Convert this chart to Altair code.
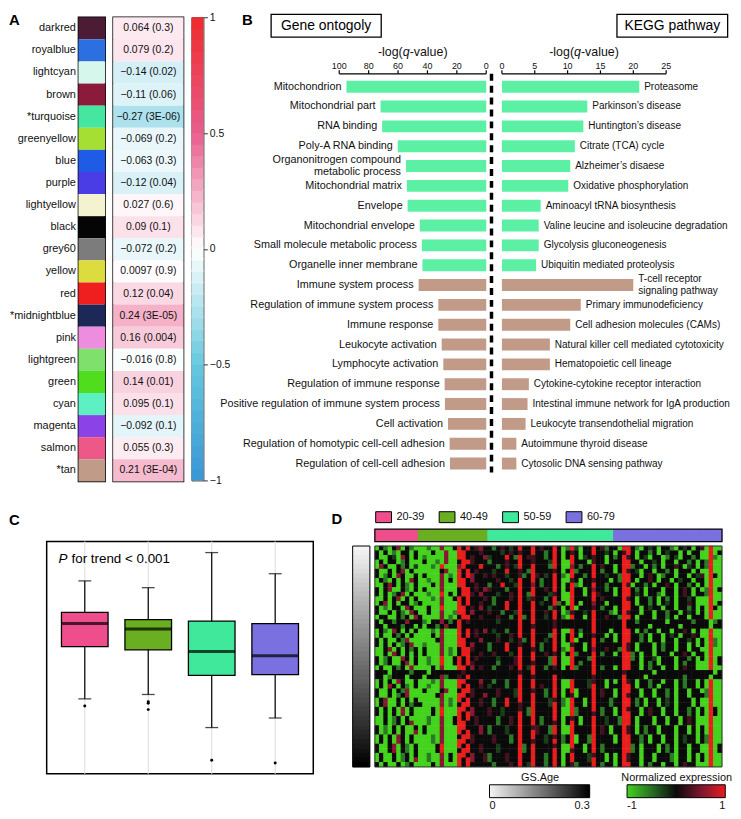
import altair as alt
import numpy as np
import pandas as pd

FONT = "Liberation Sans"
INK = "#111111"

# ---------------- Panel A : module / trait correlations ----------------
MODULES = ["darkred", "royalblue", "lightcyan", "brown", "*turquoise", "greenyellow", "blue",
           "purple", "lightyellow", "black", "grey60", "yellow", "red", "*midnightblue", "pink",
           "lightgreen", "green", "cyan", "magenta", "salmon", "*tan"]
MODULE_COLORS = ["#4b1c33", "#2b6fe0", "#d6f7ec", "#8a1b3b", "#44e6a0", "#a6df33", "#1f5ce6",
                 "#4a3de6", "#f3f3d0", "#050505", "#7c7c7c", "#dcdc3e", "#f01f1f", "#1c2858",
                 "#ee8ce0", "#7fe06c", "#4fdd1e", "#5cf0c2", "#8b42e6", "#ee5888", "#bf9b88"]
MODULE_R = [0.064, 0.079, -0.14, -0.11, -0.27, -0.069, -0.063, -0.12, 0.027, 0.09, -0.072,
            0.0097, 0.12, 0.24, 0.16, -0.016, 0.14, 0.095, -0.092, 0.055, 0.21]
MODULE_P = ["0.3", "0.2", "0.02", "0.06", "3E-06", "0.2", "0.3", "0.04", "0.6", "0.1", "0.2",
            "0.9", "0.04", "3E-05", "0.004", "0.8", "0.01", "0.1", "0.1", "0.3", "3E-04"]
CORR_DOMAIN = [-1, -0.5, 0, 0.5, 1]
CORR_RANGE = ["#3a95d6", "#66c8de", "#ffffff", "#e95d8d", "#ee2b2b"]
CORR_TICKS = [-1, -0.5, 0, 0.5, 1]

# ---------------- Panel B : enrichment ----------------
GO_TERMS = ["Mitochondrion", "Mitochondrial part", "RNA binding", "Poly-A RNA binding",
            "Organonitrogen compound\nmetabolic process", "Mitochondrial matrix", "Envelope",
            "Mitochondrial envelope", "Small molecule metabolic process", "Organelle inner membrane",
            "Immune system process", "Regulation of immune system process", "Immune response",
            "Leukocyte activation", "Lymphocyte activation", "Regulation of immune response",
            "Positive regulation of immune system process", "Cell activation",
            "Regulation of homotypic cell-cell adhesion", "Regulation of cell-cell adhesion"]
GO_VALUES = [95.1, 71.9, 70.8, 60.2, 54.6, 54.0, 53.5, 45.2, 43.8, 43.4,
             46.0, 32.6, 32.6, 30.3, 29.2, 28.3, 28.1, 26.0, 24.9, 24.7]
GO_MULTILINE = [False, False, False, False, True, False, False, False, False, False,
                False, False, False, False, False, False, False, False, False, False]
GO_CLASS = ["mito", "mito", "mito", "mito", "mito", "mito", "mito", "mito", "mito", "mito",
            "immune", "immune", "immune", "immune", "immune", "immune", "immune", "immune",
            "immune", "immune"]
KEGG_TERMS = ["Proteasome", "Parkinson\u2019s disease", "Huntington\u2019s disease",
              "Citrate (TCA) cycle", "Alzheimer\u2019s disaese", "Oxidative phosphorylation",
              "Aminoacyl tRNA biosynthesis", "Valine leucine and isoleucine degradation",
              "Glycolysis gluconeogenesis", "Ubiquitin mediated proteolysis",
              "T-cell receptor\nsignaling pathway", "Primary immunodeficiency",
              "Cell adhesion molecules (CAMs)", "Natural killer cell mediated cytotoxicity",
              "Hematopoietic cell lineage", "Cytokine-cytokine receptor interaction",
              "Intestinal immune network for IgA production", "Leukocyte transendothelial migration",
              "Autoimmune thyroid disease", "Cytosolic DNA sensing pathway"]
KEGG_VALUES = [20.9, 13.0, 12.4, 11.1, 10.4, 10.1, 5.9, 5.6, 5.6, 5.2,
               20.0, 12.0, 10.4, 7.3, 7.3, 4.1, 3.9, 3.6, 2.2, 2.2]
KEGG_MULTILINE = [False, False, False, False, False, False, False, False, False, False,
                  True, False, False, False, False, False, False, False, False, False]
KEGG_CLASS = GO_CLASS
GO_TICKS = [0, 20, 40, 60, 80, 100]
KEGG_TICKS = [0, 5, 10, 15, 20, 25]
CLASS_NAMES = ["mito", "immune"]
CLASS_COLORS = ["#5bf0a3", "#c29a88"]

# ---------------- Panel C : boxplot ----------------
AGE_GROUPS = ["20-39", "40-49", "50-59", "60-79"]
AGE_COLORS = ["#ee4f8c", "#6aae22", "#3fe89b", "#7b70e0"]
BOX_LO = [14.98, 15.09, 14.26, 14.50]
BOX_Q1 = [16.29, 16.21, 15.57, 15.59]
BOX_MED = [16.87, 16.73, 16.17, 16.06]
BOX_Q3 = [17.15, 16.97, 16.93, 16.87]
BOX_HI = [17.94, 17.77, 18.65, 18.12]
OUT_GROUP = ["20-39", "40-49", "40-49", "40-49", "50-59", "60-79"]
OUT_VALUE = [14.80, 14.91, 14.87, 14.71, 13.44, 13.37]
C_YGRID = [13.5, 14, 14.5, 15, 15.5, 16, 16.5, 17, 17.5, 18, 18.5]

# ---------------- Panel D : heatmap ----------------
SAMPLES_PER_GROUP = [10, 16, 29, 25]
HEAT_LEVELS = {"G": -1.0, "g": -0.55, "d": -0.25, "k": 0.0, "m": 0.25, "r": 0.55, "R": 1.0}
HEAT_ROWS = [
    "GkgGkrGkgG" "GGgGGrGGk" "RkR" "kmrk" "kgkmkdkRkkRkmkkRkGgRdGkkRkmgk" "kGRRkgGkdkGkkgGkdkGkm" "GRGG",
    "kGkGgGkkGk" "GGGkGGrGG" "RRk" "kkmk" "kkkdkmkmkkRkkgkRkGkmkGkkRkkdk" "GkmRkGkkgkGkdkkGkGkkG" "GRGk",
    "kGGkdGrkGk" "GgGGGGrGG" "RRk" "mkkr" "dkkkRkgRkmmkkgkRkGkRkGdkmkkGk" "gkRmkGkdGkkGgkdGkkgkG" "GRgG",
    "GkGkkGgkGG" "GkGGgGrGG" "kRR" "mkkk" "gkkkmkkRkkmkkkdRkGGRkkkGmkkGk" "kkRRkkGkkdkGkkGkkgkGk" "gRGG",
    "GrkGGkgkGd" "GGGgGRGGG" "rRk" "kkRk" "kkgkmkdRkkRkkkgRkGGrkgkkRkmkk" "GkRRgkkGkgkGkkmkGdkGk" "gRGG",
    "kGGkGkrGkG" "GGGGGkrGG" "RkR" "kmkk" "kdkkRkkmkgRkkkkmkGkRgkkkRkgkk" "GkRmkdGkkGkkgkGkkkGkG" "GRGG",
    "kGgkGrkGGk" "GkGGGrGgG" "RkR" "rkkm" "kmkkdkkmgkRmkdkRkgGRkkgkRkkdk" "kgRRkkGkmkGgkkGkkGkdm" "GRkG",
    "GkgGkGkGrk" "GGgGGrGkG" "RRk" "rkkk" "kkmkkdkRkkRkgkkRkGGmkGkkmkkkG" "kgRRkGkkmkGkkGkdkkGkk" "GRGG",
    "GGkrkGkgGk" "GGGkGrGGG" "RRk" "kmkk" "gkkRkkdRkkrkgkkRkGkRgGkkRkkgk" "kkRmGkkgkGkkmkGkkgkGk" "GRGG",
    "kGkrGGkgGk" "GkGGGrGGG" "kRR" "kmkr" "mkkkgkkRkkRkkmkRkGkRkkGkrkkgk" "GkRRkgkGkkkGkkGkmkGkG" "gRGk",
    "kGkGgkrGkG" "GGgGGRGkG" "kRR" "mkrk" "kkdkkmkRkgRkkkdmkGGRkkGkRmkkk" "GkRRkdkGkkgGkkGkmkGkk" "gRGG",
    "GGkGkrGkGk" "GGGgGrGGk" "RkR" "kkkm" "kgkkkmkRkdmkkgkRkGGRkkkkRkmkk" "kkRmkGkkgkGkgkGkkdkGG" "GRGG",
    "GkrGkGkkGg" "kGGGGrGGG" "RkR" "kkmk" "kgkkRkkRkkRkdkkRgkGRkGkkrkkGk" "kkRRkGkkgkGkdkGkkmkGG" "GRGk",
    "kGgGkkGrkG" "GGkGGRGGG" "RRk" "mkrk" "dkkkRkkRkkRkkkgmkGkRGkkkmkgkk" "GkRRkkGkdkkGkkGkkgkGk" "GRkG",
    "kGGkGkgGrk" "GGkGGrGGg" "RRk" "rkkk" "mkkgkkdRkkRkkmkRkGgmkkdkRkkkg" "GkRmkkGkkGkkgkkGkdkGk" "GRGG",
    "GkkGGkgkGr" "kGGGGrGgG" "kRR" "kkmk" "kkmkkgkRgkRkkdkRkgGRkkGkRkkmk" "kgRRkGkkkGkkgkGkkGkkk" "GRGG",
    "kGkkgkkrkk" "kgGkkrkgk" "Rkm" "kkkk" "kkdkkkkRkkRkkkkmkkkkkkkkRkkkk" "kkRkkgkkkkkkGkkkkkgkk" "kGgk",
    "kkGkkkgkkG" "kGkkgkrkk" "Rkk" "kkkk" "kkkkkkkRkkmkkkkmkkkkkkkkRkkkk" "kkRkkkkkGkkkkkkGkkkkk" "kGkk",
    "GkgGrkGkGk" "GGGgGrGGG" "RkR" "kmkr" "kdkkgkkRkkRkkkkRkGGRkgkkRkkkG" "kkRRkGkgkkGkkGkkmkGkG" "GRGG",
    "GkGGkgkGkG" "GGGkGrGGG" "RkR" "kmkk" "kkdkkmkRkkRkkkgRkGkRkGkkmkkGk" "GkRRkkgkGkkGkdkGkkmkG" "GRGG",
    "kGkGGkgrGG" "GGGGkrGGG" "RRk" "kkrk" "kkmkkdkmgkRkkdkRkGkRGkkkRkgkk" "GkRRkkgkGkkGkkGkkdkGk" "GRgG",
    "kGkGkGgkrG" "GgGGGrGGG" "RRk" "rkkk" "gkkkRkkmkkRkgkkRkGGmkkGkRkkkk" "kkRmkGkkkGkgkkGkkGkGk" "GRgG",
    "GGkrGkGkgk" "GkGGGrGgG" "kRR" "mkkk" "gkkkRkkRkkmkgkkRkgGRkkGkrkkmk" "kgRmkGkkkGkgkkGkkGkkG" "GRGG",
    "GGkGrkGkGk" "GkGGGrGgG" "kRR" "kkmk" "kmkkkdkRkkRkkmkmkGkRgkkkRkgkk" "GkRRgkGkkGkkkGkkmkGkk" "GRGG",
    "kGgkGGrkGk" "GGgGGRGGk" "RkR" "kmkk" "kkdkkkmRkkRkkkgRkGGRkkkgRkkkk" "kkRRgkGkkdGkkkGkkgkGk" "GRGk",
    "kGgkGGkrGk" "GGgGGRGGk" "RkR" "mkkk" "kkgkkkmRkkmkkkgRkGGRkgkkRkkkk" "kkRRkkGkgkGkkkGkgkkGG" "GRGk",
    "GkGGkgkGrG" "GGGkGrGGG" "RRk" "rkmk" "kgkkkmkRkdRkkgkmkGkRgkkkRkgkk" "GkRRkkGkgkkGkkGkmkkGG" "GRGG",
    "kkkGkkkkgk" "kkGkkkkkk" "kmk" "kkkk" "kkkkkkkmkkRkkkkkkkkkkkkkRkkkk" "kkmkkkkkkGkkkkkkkkkkk" "kkGk",
    "kkGgkkkGkk" "kGkkkrgkk" "mkR" "kkkk" "kkkkkkkRkkmkkkkRkkkkkkkkmkkkk" "kkRkkkkGkkkkkkkkgkkkk" "kGkk",
    "GkGkGrkGGk" "GGGgGrGGG" "RRk" "kkrk" "kgkkgkkRkkRkkkkRkGGRkkkdmkkGk" "GkRmkGkkgkkGkkGkgkkGk" "GRGG",
    "GkGrkGkgGk" "GGgGGrGGG" "RkR" "kkmk" "dkkkgkkRkkRkmkkRkGGRkkkdRkkGk" "kkRRkGkkgkGkkkGkgkkGk" "GRGG",
    "kGGkGkgrGG" "GkGGGkrGG" "kRR" "mkkk" "kkmkkkdRkkmkkgkRkGkRGkkkRkmkk" "GkRRkkGkkGkkgkGkkGkkG" "gRGG",
    "kGGkGgkrGG" "GGGGkrGGG" "RRk" "mkkr" "kkmkkkdRkkRkkgkRkGkmGkkkRkmkk" "GkRmkkGkkGkkgkGkkGkkk" "gRGG",
    "GkrGGkGkGk" "GGGGGrGgG" "RkR" "kkmk" "kgkkRkkRkkRkkkdmkgGRkkGkRkkkg" "kkRRkgkGkkGkdkGkkkGkG" "GRGG",
    "GkrGGkGkgk" "kGGGGrGgG" "kRR" "kkmk" "kgkkRkkmkkRkkkdRkgGRkkGkRkkkg" "kkRRkgkGkkGkdkGkkkGkG" "GRGG",
    "kGkGkGrGkG" "GGGkGRGGG" "RRk" "rkkk" "mkkdkkkmkgRkkkkRkGGRgkkkRkgkk" "GkRmkkGkmkkGkkGkkgkGk" "GRkG",
    "kGkGkGrGkG" "GGGkGRGGG" "RkR" "rkkk" "mkkdkkkRkgRkkkkRkGGRgkkkmkgkk" "GkRRkkGkmkkGkkGkkgkGk" "GRkG",
    "GGkGgkGkGG" "GGgGGrGGk" "RkR" "kmkk" "kkgkkmkRkkRkgkkRkGkmkGkkRkkdk" "kgRRkGkkkGkkGkkGkmkGG" "GRGG",
    "GGkGgkGkrG" "GGgGGrGGk" "RRk" "kmkk" "kkgkkmkRkkRkgkkmkGkRkGkkRkkdk" "kgRRkGkkkGkkGkkGkmkGG" "GRGG",
    "kGgGkGkGGk" "GkGGGrGGG" "RRk" "kkrk" "gkkkdkkRkkmmkkgRkGGRkkkkRkmkG" "kkRmkGkgkkGkkkGkkGkGk" "GRGG",
    "kGgGkGkGGr" "GkGGGrGGG" "RkR" "kkrk" "gkkkdkkRkkRmkkgRkGGRkkkkRkmkG" "kkRmkGkgkkGkkkGkkGkGk" "GRGG",
    "GkGkGrkGkG" "GGGgGrGGG" "kRR" "mkkk" "kmkkkgkRkkRkkdkmkgkRGkkgRkkkk" "GkRRkkgkGkkGkkGkdkkGk" "gRGG",
    "GkGkGrkGkG" "GGGgGrGGG" "RRk" "mkkk" "kmkkkgkRkkmkkdkRkgkRGkkgRkkkk" "GkRRkkgkGkkGkkGkdkkGk" "gRGG",
    "kGGkrGkgGk" "GGGGkRGGG" "RkR" "kkmk" "kkdkkkkRgkRkkkkmkGGRkkGkRkgkk" "kkRRgkGkkkGkgkGkkGkkG" "GRGk",
    "kGGkrGkgGk" "GGGGkRGGG" "kRR" "kkmk" "kkdkkkkRgkRkkkkRkGGmkkGkRkgkk" "kkRRgkGkkkGkgkGkkGkkG" "GRGk",
    "GkGGkGgkGk" "GGgGGrGkG" "RRk" "rkkm" "gkkkmkkRkkRkkgkRkGkRkkkdmkkGk" "GkRmkkGkkGkkkgGkkGkGk" "GRGG",
    "GkGGkGgkGr" "GGgGGrGkG" "RkR" "rkkm" "gkkkmkkRkkRkkgkRkGkRkkkdRkkGk" "GkRmkkGkkGkkkgGkkGkGk" "GRGG",
    "kGkGGkGgkG" "GGGkGrGGG" "RkR" "kkkk" "kgkkkmkRkdRkkgkRkGkmgkkkRkgkk" "GkRRkkGkgkkGkkGkmkkGG" "GRGG",
]
GS_AGE = [0.0, 0.006, 0.012, 0.018, 0.025, 0.032, 0.04, 0.048,
          0.056, 0.063, 0.07, 0.077, 0.084, 0.09, 0.096, 0.102,
          0.108, 0.114, 0.12, 0.126, 0.132, 0.138, 0.144, 0.15,
          0.156, 0.162, 0.168, 0.174, 0.18, 0.186, 0.192, 0.198,
          0.204, 0.21, 0.216, 0.222, 0.228, 0.234, 0.24, 0.246,
          0.252, 0.258, 0.265, 0.272, 0.279, 0.286, 0.293, 0.3]
HEAT_DOMAIN = [-1, -0.5, 0, 0.5, 1]
HEAT_RANGE = ["#44d31c", "#276f25", "#0a0a0a", "#7a1731", "#ea1c1c"]
GS_DOMAIN = [0, 0.3]
GS_RANGE = ["#f4f4f4", "#000000"]

# ======================================================================
ONE = pd.DataFrame({"k": [0]})


def spacer(x, y, x2=None, y2=None):
    return alt.Chart(ONE).mark_rect(opacity=0).encode(
        x=alt.value(x), x2=alt.value(x if x2 is None else x2),
        y=alt.value(y), y2=alt.value(y if y2 is None else y2))


def label(text, x, y, size=15, weight="bold", align="left", baseline="top", style="normal"):
    return alt.Chart(ONE).mark_text(
        text=text, fontSize=size, fontWeight=weight, align=align, baseline=baseline,
        fontStyle=style, color="black").encode(x=alt.value(x), y=alt.value(y))


def frame(x, x2, y, y2, color="black", width=1.2):
    return alt.Chart(ONE).mark_rect(fill="transparent", stroke=color, strokeWidth=width).encode(
        x=alt.value(x), x2=alt.value(x2), y=alt.value(y), y2=alt.value(y2))


# ---------------- Panel A ----------------
dfA = pd.DataFrame({
    "module": MODULES, "color": MODULE_COLORS, "r": MODULE_R,
    "label": [f"{str(r).replace('-', '\u2212')} ({p})" for r, p in zip(MODULE_R, MODULE_P)],
})
mod_scale = alt.Scale(paddingInner=0, paddingOuter=0)
corr_scale = alt.Scale(domain=CORR_DOMAIN, range=CORR_RANGE, interpolate="rgb")

sw = alt.layer(
    alt.Chart(dfA).mark_rect().encode(
        y=alt.Y("module:N", sort=MODULES, scale=mod_scale,
                axis=alt.Axis(title=None, ticks=False, domain=False, labelFontSize=11,
                              labelColor=INK, labelPadding=3)),
        color=alt.Color("color:N", scale=None)),
    label("A", -70, -4),
    spacer(-70, -3),
).properties(width=27, height=468, view=alt.ViewBackground(stroke="black", strokeWidth=1.5))

vals = alt.layer(
    alt.Chart(dfA).mark_rect().encode(
        y=alt.Y("module:N", sort=MODULES, scale=mod_scale, axis=None),
        color=alt.Color("r:Q", scale=corr_scale, legend=None)),
    alt.Chart(dfA).mark_text(fontSize=10.5, color=INK).encode(
        y=alt.Y("module:N", sort=MODULES, scale=mod_scale, axis=None), text="label:N"),
).properties(width=71, height=468, view=alt.ViewBackground(stroke="black", strokeWidth=1.5))

edges = np.linspace(-1, 1, 41)
cbdf = pd.DataFrame({"lo": edges[:-1], "hi": np.minimum(edges[1:] + 0.01, 1),
                     "mid": (edges[:-1] + edges[1:]) / 2})
cb = alt.Chart(cbdf).mark_rect().encode(
    y=alt.Y("lo:Q", scale=alt.Scale(domain=[-1, 1], nice=False, zero=False),
            axis=alt.Axis(orient="right", values=CORR_TICKS, format="~g", title=None, tickSize=4,
                          tickColor="#333", labelPadding=2, labelFontSize=10.5, labelColor=INK,
                          domain=False, grid=False)),
    y2="hi:Q",
    color=alt.Color("mid:Q", scale=corr_scale, legend=None),
).properties(width=12, height=467, view=alt.ViewBackground(stroke="#333", strokeWidth=1))

lead = spacer(0, 0, 1, 1).properties(width=24, height=10)
filler = spacer(0, 0, 1, 1).properties(width=121, height=10)

# ---------------- Panel B ----------------
Y0, Y1 = 57, 463
BOX_TOP, BOX_BOTTOM = -3, 20
go_df = pd.DataFrame({"term": GO_TERMS, "value": GO_VALUES, "cls": GO_CLASS, "multi": GO_MULTILINE})
kg_df = pd.DataFrame({"term": KEGG_TERMS, "value": KEGG_VALUES, "cls": KEGG_CLASS, "multi": KEGG_MULTILINE})
cls_color = alt.Color("cls:N", scale=alt.Scale(domain=CLASS_NAMES, range=CLASS_COLORS), legend=None)


def term_y(terms):
    return alt.Y("term:N", sort=terms, axis=None,
                 scale=alt.Scale(range=[Y0, Y1], paddingInner=0.4, paddingOuter=0.35))


def manual_axis(ticks, scale, lo, hi, center):
    tdf = pd.DataFrame({"t": ticks, "lbl": [str(t) for t in ticks]})
    tx = alt.X("t:Q", scale=scale, axis=None)
    ends = pd.DataFrame({"a": [lo], "b": [hi], "c": [center]})
    ax = alt.X("a:Q", scale=scale, axis=None)
    cx = alt.X("c:Q", scale=scale, axis=None)
    ty = alt.value(Y0 - 21.5)
    return [
        alt.Chart(ends).mark_rule(color="black", strokeWidth=1.2).encode(
            x=ax, x2="b:Q", y=alt.value(Y0)),
        alt.Chart(tdf).mark_rule(color="black", strokeWidth=1.2).encode(
            x=tx, y=alt.value(Y0 - 3.5), y2=alt.value(Y0)),
        alt.Chart(tdf).mark_text(fontSize=9, color=INK, baseline="alphabetic").encode(
            x=tx, y=alt.value(Y0 - 4.5), text="lbl:N"),
        alt.Chart(ends).mark_text(text="-log(", fontSize=12.5, color=INK, align="right",
                                  baseline="middle", dx=-10.1).encode(x=cx, y=ty),
        alt.Chart(ends).mark_text(text="q", fontSize=12.5, color=INK, align="left",
                                  fontStyle="italic", baseline="middle", dx=-10.1).encode(x=cx, y=ty),
        alt.Chart(ends).mark_text(text="-value)", fontSize=12.5, color=INK, align="left",
                                  baseline="middle", dx=-3.1).encode(x=cx, y=ty),
    ]


GO_W = 155.6
go_scale = alt.Scale(domain=[-5, 100], reverse=True, nice=False, zero=True)
go_x = alt.X("value:Q", scale=go_scale, axis=None)
go = alt.layer(
    alt.Chart(go_df).mark_bar().encode(x=go_x, y=term_y(GO_TERMS), color=cls_color),
    alt.Chart(go_df).transform_filter("!datum.multi").mark_text(
        align="right", dx=-5, fontSize=10.9, color=INK).encode(
        x=go_x, y=term_y(GO_TERMS), text="term:N"),
    alt.Chart(go_df).transform_filter("datum.multi").mark_text(
        align="right", dx=-5, dy=-6.3, fontSize=10.9, color=INK, lineBreak="\n", lineHeight=12.6).encode(
        x=go_x, y=term_y(GO_TERMS), text="term:N"),
    *manual_axis(GO_TICKS, go_scale, 0, 100, 50),
    alt.Chart(ONE).mark_rule(color="black", strokeWidth=3.5, strokeDash=[7, 5]).encode(
        x=alt.value(153.5), y=alt.value(Y0), y2=alt.value(Y1 - 4)),
    frame(-68.7, 42.3, BOX_TOP, BOX_BOTTOM, width=1.3),
    label("Gene ontogoly", -13.2, (BOX_TOP + BOX_BOTTOM) / 2, size=14, weight="normal",
          align="center", baseline="middle"),
    label("B", -98, -4),
).properties(width=GO_W, height=463)

kg_scale = alt.Scale(domain=[0, 25], nice=False)
kg_x = alt.X("value:Q", scale=kg_scale, axis=None)
kegg = alt.layer(
    alt.Chart(kg_df).mark_bar().encode(x=kg_x, y=term_y(KEGG_TERMS), color=cls_color),
    alt.Chart(kg_df).transform_filter("!datum.multi").mark_text(
        align="left", dx=5, fontSize=10.1, color=INK).encode(
        x=kg_x, y=term_y(KEGG_TERMS), text="term:N"),
    alt.Chart(kg_df).transform_filter("datum.multi").mark_text(
        align="left", dx=5, dy=-6.3, fontSize=10.1, color=INK, lineBreak="\n", lineHeight=12.6).encode(
        x=kg_x, y=term_y(KEGG_TERMS), text="term:N"),
    *manual_axis(KEGG_TICKS, kg_scale, 0, 25, 12.5),
    frame(116, 227.6, BOX_TOP, BOX_BOTTOM, width=1.3),
    label("KEGG pathway", 171.8, (BOX_TOP + BOX_BOTTOM) / 2, size=14, weight="normal",
          align="center", baseline="middle"),
).properties(width=165.6, height=463)

row1 = alt.hconcat(lead, sw, vals, cb, filler, go, kegg, spacing=8,
                   bounds="flush").resolve_scale(color="independent")

# ---------------- Panel C ----------------
box_df = pd.DataFrame({"group": AGE_GROUPS, "lo": BOX_LO, "q1": BOX_Q1, "med": BOX_MED,
                       "q3": BOX_Q3, "hi": BOX_HI})
out_df = pd.DataFrame({"group": OUT_GROUP, "v": OUT_VALUE})
cx_scale = alt.Scale(domain=AGE_GROUPS, paddingInner=0, paddingOuter=0.1)
cy_scale = alt.Scale(domain=[13.1, 18.93], nice=False, zero=False)
x_ax = alt.X("group:N", sort=AGE_GROUPS, scale=cx_scale,
             axis=alt.Axis(title=None, labelExpr="replace(datum.label, '-', '\u2212')",
                           labelFontSize=13.5, labelColor=INK, labelAngle=0, tickSize=3,
                           tickColor="#333", domain=False, grid=False, labelPadding=3))
x_no = alt.X("group:N", sort=AGE_GROUPS, scale=cx_scale, axis=None)
is_major = "datum.value % 1 === 0"

boxc = alt.layer(
    alt.Chart(box_df).mark_rule(color="#e2e2e2", strokeWidth=1.2).encode(x=x_ax),
    alt.Chart(box_df).mark_rule(color="black", strokeWidth=1.2).encode(
        x=x_no,
        y=alt.Y("lo:Q", scale=cy_scale,
                axis=alt.Axis(title="Average expression of mtRNA", values=C_YGRID, format="~g",
                              labelExpr=f"{is_major} ? datum.label : ''", titleFontSize=13.5,
                              titleFontWeight="normal", titleColor=INK, titlePadding=4,
                              labelFontSize=10.5, labelColor="#333", labelPadding=2, tickSize=3,
                              tickColor="#333",
                              tickOpacity={"condition": {"test": is_major, "value": 1}, "value": 0},
                              gridColor={"condition": {"test": is_major, "value": "#dadada"}, "value": "#ebebeb"},
                              gridWidth={"condition": {"test": is_major, "value": 1.3}, "value": 0.8},
                              domain=False, grid=True)),
        y2="hi:Q"),
    alt.Chart(box_df).mark_tick(color="black", thickness=1.3, size=13).encode(
        x=x_no, y=alt.Y("lo:Q", scale=cy_scale, axis=None)),
    alt.Chart(box_df).mark_tick(color="black", thickness=1.3, size=13).encode(
        x=x_no, y=alt.Y("hi:Q", scale=cy_scale, axis=None)),
    alt.Chart(box_df).mark_bar(size=47, stroke="black", strokeWidth=1.3).encode(
        x=x_no, y=alt.Y("q1:Q", scale=cy_scale, axis=None), y2="q3:Q",
        color=alt.Color("group:N", scale=alt.Scale(domain=AGE_GROUPS, range=AGE_COLORS), legend=None)),
    alt.Chart(box_df).mark_tick(color="black", thickness=3, size=47).encode(
        x=x_no, y=alt.Y("med:Q", scale=cy_scale, axis=None)),
    alt.Chart(out_df).mark_circle(color="black", size=9, opacity=1).encode(
        x=x_no, y=alt.Y("v:Q", scale=cy_scale, axis=None)),
    label("P", 12, 17.3, size=13.5, weight="normal", baseline="middle", style="italic"),
    label("for trend < 0.001", 25, 17.3, size=13.5, weight="normal", baseline="middle"),
    label("C", -38, -28.7),
    spacer(-38, -31),
).properties(width=268.8, height=234.3, view=alt.ViewBackground(stroke="black", strokeWidth=1.5))

# ---------------- Panel D ----------------
N_SAMPLES = sum(SAMPLES_PER_GROUP)
sample_group = []
for g, n in zip(AGE_GROUPS, SAMPLES_PER_GROUP):
    sample_group += [g] * n
ann_df = pd.DataFrame({"sample": list(range(N_SAMPLES)), "group": sample_group})
heat_records = []
for gi, row in enumerate(HEAT_ROWS):
    for si, ch in enumerate(row[:N_SAMPLES]):
        heat_records.append({"gene": gi, "sample": si, "v": HEAT_LEVELS[ch]})
heat_df = pd.DataFrame(heat_records)
gs_df = pd.DataFrame({"gene": list(range(len(GS_AGE))), "gs": GS_AGE})

HW = 350
DH = 232                 # panel height (heatmap plus one empty band above and below)
n_genes = len(HEAT_ROWS)
step = DH / (n_genes + 2)
HT, HB = step, DH - step  # heatmap top / bottom inside the panel
LEG_Y = HB + 5
hx = alt.X("sample:O", axis=None, scale=alt.Scale(paddingInner=0, paddingOuter=0))
hy = alt.Y("gene:O", axis=None, scale=alt.Scale(paddingInner=0, paddingOuter=1))

grad_legend = dict(orient="none", direction="horizontal", titleAnchor="middle", titleFontSize=11,
                   titleFontWeight="normal", titleColor=INK, titlePadding=2, labelFontSize=11,
                   labelColor=INK, labelAlign="center", labelOffset=2, gradientThickness=13,
                   gradientStrokeColor="black", gradientStrokeWidth=1, padding=0)

heat = alt.Chart(heat_df).mark_rect(width=alt.RelativeBandSize(1.12),
                                    height=alt.RelativeBandSize(1.1)).encode(
    x=hx, y=hy,
    color=alt.Color("v:Q", scale=alt.Scale(domain=HEAT_DOMAIN, range=HEAT_RANGE, interpolate="rgb"),
                    legend=alt.Legend(title="Normalized expression", legendX=248.3, legendY=LEG_Y,
                                      gradientLength=99, values=[-1, 1], format="~g",
                                      labelExpr="replace(datum.label, '\u2212', '-')", **grad_legend)))
ann = alt.Chart(ann_df).mark_rect(width=alt.RelativeBandSize(1.2)).encode(
    x=hx, y=alt.value(-12.4), y2=alt.value(0.3),
    color=alt.Color("group:N", scale=alt.Scale(domain=AGE_GROUPS, range=AGE_COLORS),
                    legend=alt.Legend(orient="none", legendX=2.8, legendY=-30.7, direction="horizontal",
                                      title=None, symbolType="M-1.45,-1L1.45,-1L1.45,1L-1.45,1Z",
                                      symbolSize=121, symbolStrokeColor="black", symbolStrokeWidth=1,
                                      symbolOpacity=1, labelFontSize=11, labelColor=INK,
                                      labelOffset=7, columnPadding=12, padding=0)))
gray = alt.Chart(gs_df).mark_rect(height=alt.RelativeBandSize(1.15)).encode(
    x=alt.value(-22.4), x2=alt.value(-5), y=hy,
    color=alt.Color("gs:Q", scale=alt.Scale(domain=GS_DOMAIN, range=GS_RANGE, interpolate="rgb"),
                    legend=alt.Legend(title="GS.Age", legendX=115.6, legendY=LEG_Y, gradientLength=101,
                                      values=GS_DOMAIN, format="~g", **grad_legend)))

dchart = alt.layer(
    heat,
    frame(0, HW, HT, HB, color="#333", width=1),
    ann,
    frame(0, HW, -12.4, 0.3, width=1.2),
    gray,
    frame(-22.4, -5, HT, HB, width=1),
    label("D", -43.7, -29.7),
    spacer(-44, -31),
).resolve_scale(color="independent").properties(width=HW, height=DH)

row2 = alt.hconcat(boxc, dchart, spacing=61.9, bounds="flush").resolve_scale(color="independent")

chart = alt.vconcat(row1, row2, spacing=23.5).resolve_scale(color="independent").properties(
    padding=0
).configure(font=FONT).configure_view(strokeWidth=0)

chart.save("out.html", embed_options={"renderer": "svg", "actions": False})
